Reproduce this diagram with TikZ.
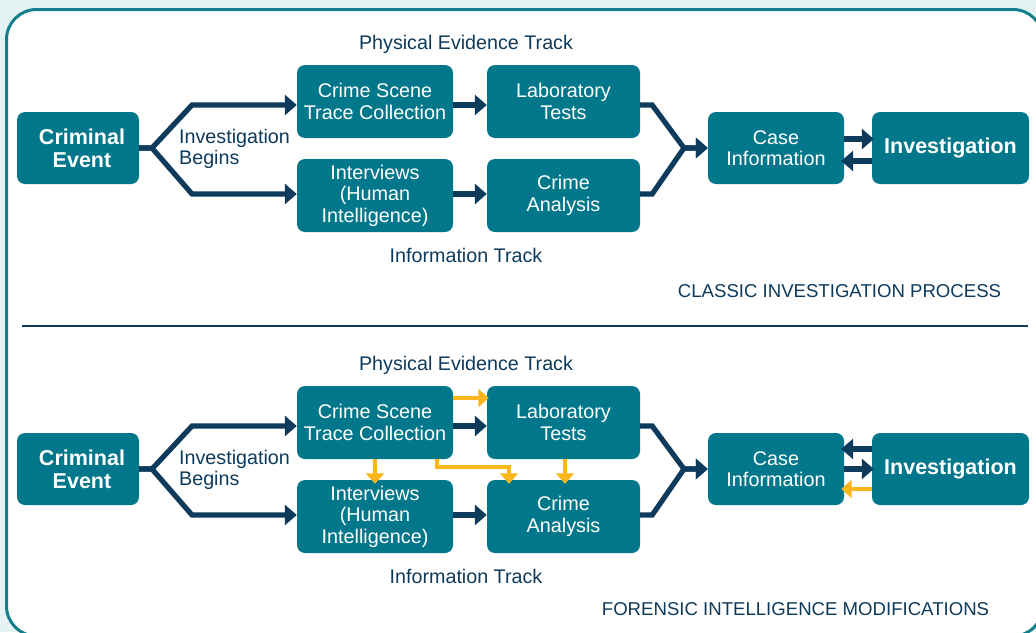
\documentclass[tikz,border=0pt]{standalone}
\usepackage{fontspec}
\setmainfont{Liberation Sans}
\usetikzlibrary{arrows.meta,calc}
\definecolor{bgc}{RGB}{228,242,243}
\definecolor{framec}{RGB}{20,126,140}
\definecolor{tealbox}{RGB}{0,119,139}
\definecolor{navy}{RGB}{14,58,91}
\definecolor{gold}{RGB}{251,182,28}
\begin{document}
\begin{tikzpicture}[x=1pt,y=-1pt,line join=miter,
  box/.style={fill=tealbox, rounded corners=8pt, text=white, align=center, inner sep=0pt,
    font=\fontsize{19.8}{21.5}\selectfont},
  boldbox/.style={box, font=\fontsize{21.5}{23}\selectfont\bfseries},
  lbl/.style={text=navy, inner sep=0pt, font=\fontsize{19.7}{20.5}\selectfont},
  captext/.style={text=navy, inner sep=0pt, font=\fontsize{18.6}{20}\selectfont},
  nav/.style={draw=navy, line width=5.2pt, -{Triangle[width=20pt,length=12pt]}},
  yel/.style={draw=gold, line width=4.5pt, -{Triangle[width=18pt,length=10.5pt]}}
]
\useasboundingbox (0,0) rectangle (1036,632);
\fill[bgc] (0,0) rectangle (1036,632);
\draw[framec, line width=3pt, fill=white, rounded corners=30pt] (6.5,9.5) rectangle (1043,636);
\draw[navy, line width=2.5pt] (22,326) -- (1028,326);

\foreach \s/\dy in {a/0,b/321}{
  \node[boldbox, minimum width=122pt, minimum height=72pt, text width=122pt] (ce\s) at (78,148+\dy) {\hspace*{8pt}Criminal\\\hspace*{8pt}Event};
  \node[box, minimum width=156pt, minimum height=73pt] (cs\s) at (375,101.5+\dy) {Crime Scene\\Trace Collection};
  \node[box, minimum width=156pt, minimum height=73pt] (iv\s) at (375,195.5+\dy) {Interviews\\(Human\\Intelligence)};
  \node[box, minimum width=153pt, minimum height=73pt] (lt\s) at (563.5,101.5+\dy) {Laboratory\\Tests};
  \node[box, minimum width=153pt, minimum height=73pt] (ca\s) at (563.5,195.5+\dy) {Crime\\Analysis};
  \node[box, minimum width=136pt, minimum height=72pt] (ci\s) at (776,148+\dy) {Case\\Information};
  \node[boldbox, minimum width=157pt, minimum height=72pt] (inv\s) at (950.5,148+\dy) {\raisebox{-3pt}{Investigation}};
  \node[lbl] (pe\s) at (466,44+\dy) {Physical Evidence Track};
  \node[lbl] (it\s) at (466,255+\dy) {Information Track};
  \node[lbl, anchor=west, align=left] (ib\s) at (179,149+\dy) {Investigation\\Begins};
  \coordinate (f\s) at (152,148+\dy);
  \coordinate (fu\s) at (192,105+\dy);
  \coordinate (fd\s) at (192,194+\dy);
  \coordinate (m\s) at (684,148+\dy);
  \draw[nav] (ce\s.east) -- (f\s) -- (fu\s) -- (fu\s -| cs\s.west);
  \draw[nav] (ce\s.east) -- (f\s) -- (fd\s) -- (fd\s -| iv\s.west);
  \draw[nav] ([yshift=-3.5pt]cs\s.east) -- ([yshift=-3.5pt]lt\s.west);
  \draw[nav] ([yshift=1.5pt]iv\s.east) -- ([yshift=1.5pt]ca\s.west);
  \draw[nav] ([yshift=-3.5pt]lt\s.east) -- ++(12,0) -- (m\s) -- (ci\s.west);
  \draw[nav] ([yshift=1.5pt]ca\s.east) -- ++(12,0) -- (m\s) -- (ci\s.west);
}
\node[captext] (t1) at (839.5,291) {CLASSIC INVESTIGATION PROCESS};
\node[captext] (t2) at (795.5,609) {FORENSIC INTELLIGENCE MODIFICATIONS};

% top exchange
\draw[nav, shorten >=-2pt] ([yshift=9pt]cia.east) -- ([yshift=9pt]inva.west);
\draw[nav, shorten >=-3pt] ([yshift=-13pt]inva.west) -- ([yshift=-13pt]cia.east);

% bottom exchange
\draw[nav, shorten >=-3pt] ([yshift=20pt]invb.west) -- ([yshift=20pt]cib.east);
\draw[nav, shorten >=-2pt] (cib.east) -- (invb.west);
\draw[yel, shorten >=-3pt] ([yshift=-20pt]invb.west) -- ([yshift=-20pt]cib.east);

% forensic intelligence links
\draw[yel, shorten >=-2pt] ([yshift=24.5pt]csb.east) -- ([yshift=24.5pt]ltb.west);
\draw[yel, shorten >=-4pt] (csb.south) -- (ivb.north);
\draw[yel, shorten >=-4pt] ([xshift=1.5pt]ltb.south) -- ([xshift=1.5pt]cab.north);
\coordinate (e1) at (437,467);
\coordinate (e2) at (509,467);
\draw[yel, shorten >=-4pt] (csb.south -| e1) -- (e1) -- (e2) -- (e2 |- cab.north);
\end{tikzpicture}
\end{document}
